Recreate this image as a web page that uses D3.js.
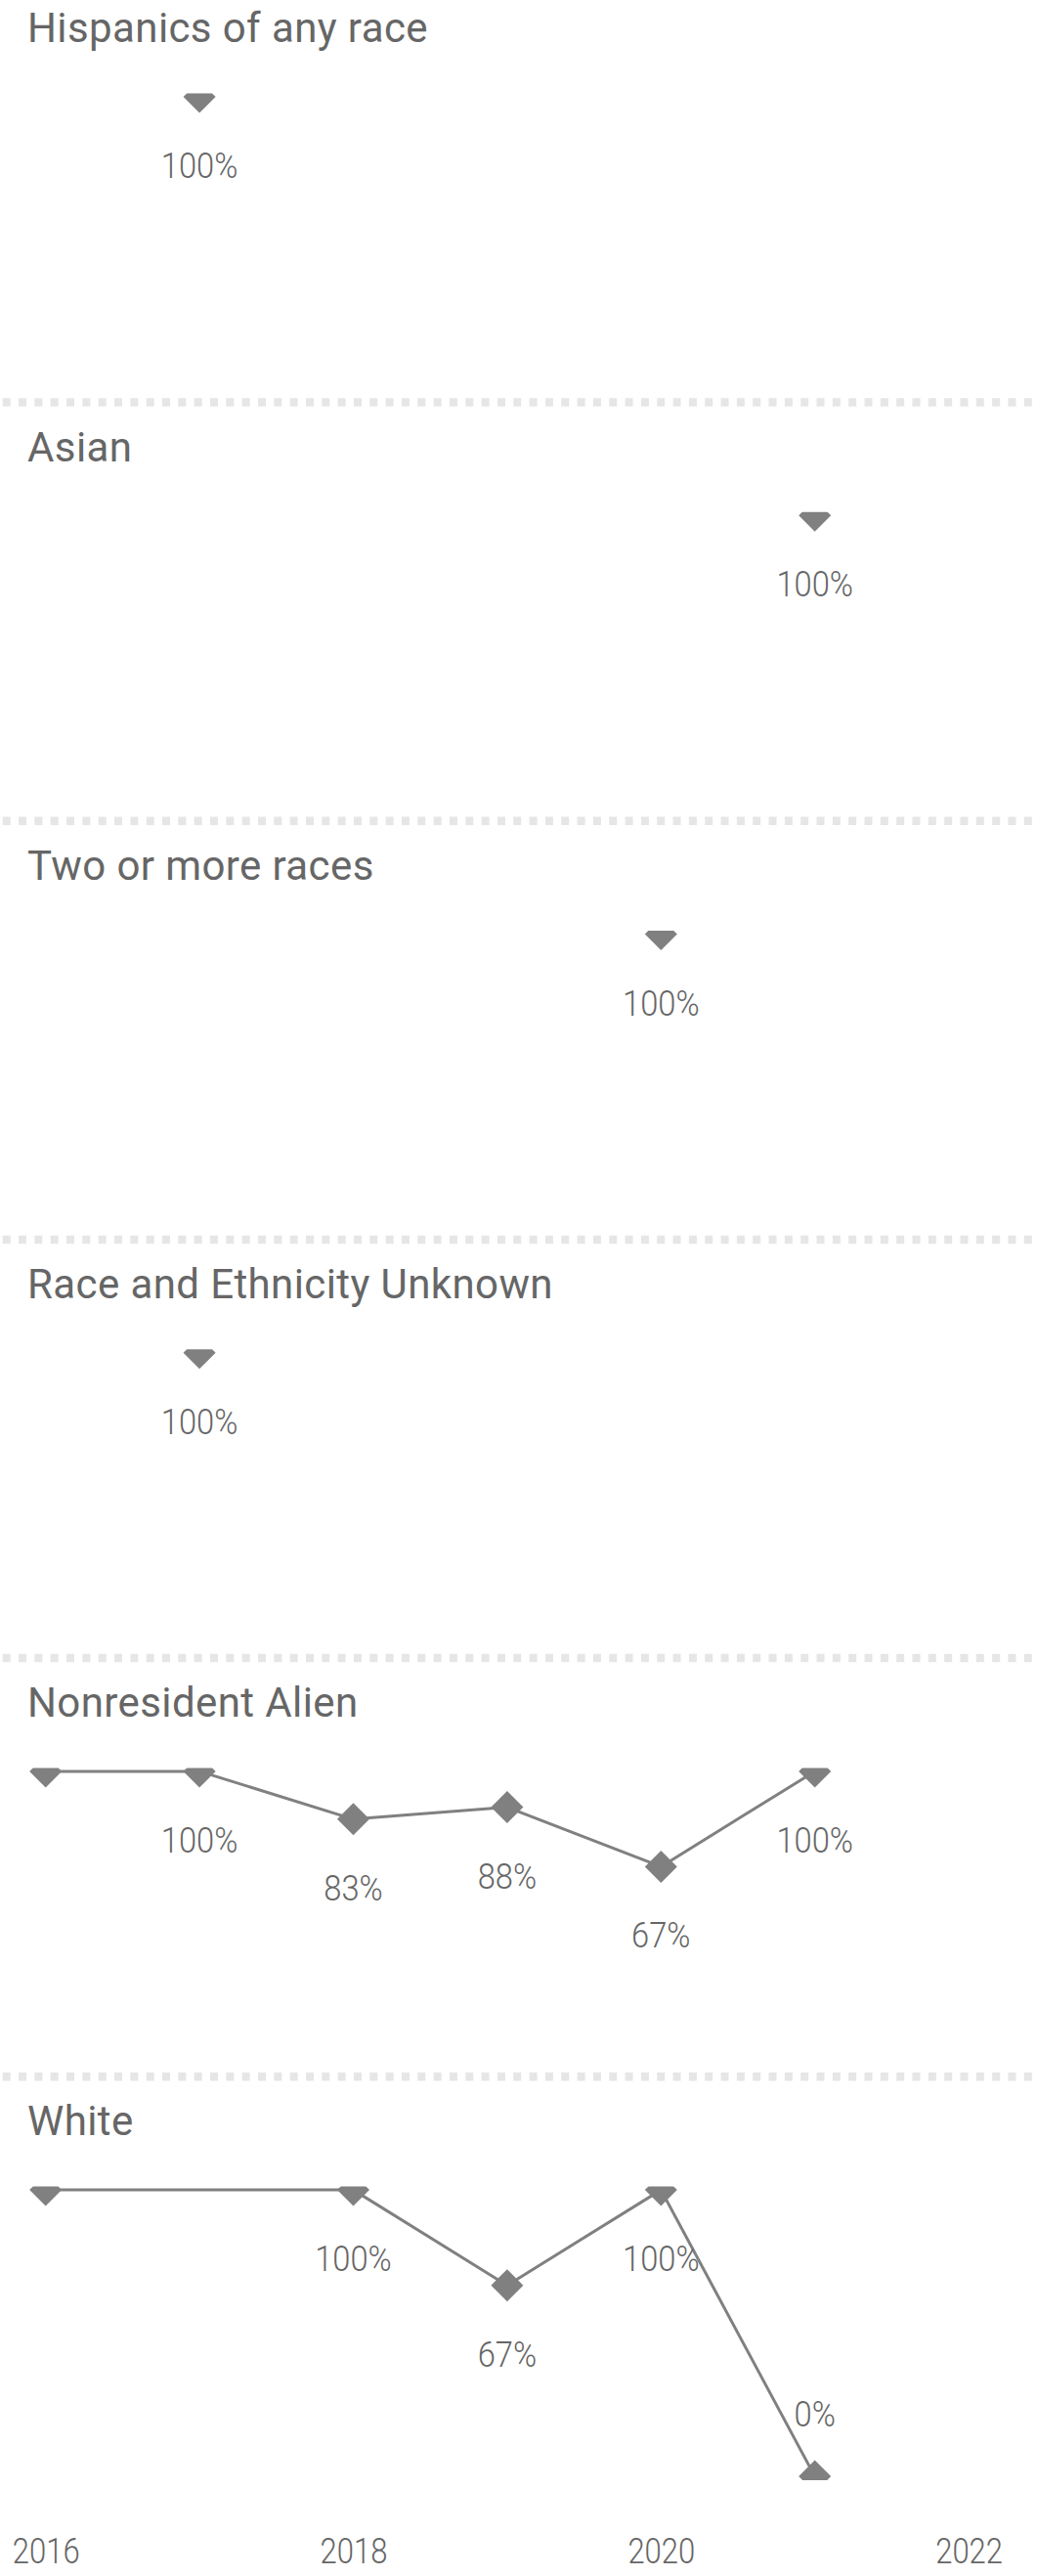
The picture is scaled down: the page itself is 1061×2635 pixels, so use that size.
<!DOCTYPE html>
<html>
<head>
<meta charset="utf-8">
<script src="https://cdn.jsdelivr.net/npm/d3@7"></script>
<style>
  html, body { margin: 0; padding: 0; background: #fff; }
  svg { display: block; }
  .title { font-family: Roboto, "Noto Sans", sans-serif; font-size: 42px; letter-spacing: 0.4px; fill: #666; }
  .val { font-family: Roboto, sans-serif; font-weight: 300; font-size: 36.5px; fill: #666; }
  .x-axis text { font-family: Roboto, sans-serif; font-weight: 300; font-size: 36.5px; fill: #666; }
</style>
</head>
<body>
<svg id="chart"></svg>
<script>
// ---- data ----
const years = [2016, 2017, 2018, 2019, 2020, 2021];
const groups = ['Hispanics of any race', 'Asian', 'Two or more races',
  'Race and Ethnicity Unknown', 'Nonresident Alien', 'White'];
// null = no value for that year
const hispanic    = [null, 1, null, null, null, null];
const asian       = [null, null, null, null, null, 1];
const twoOrMore   = [null, null, null, null, 1, null];
const unknownRace = [null, 1, null, null, null, null];
const nonresident = [1, 1, 0.833, 0.875, 0.667, 1];
const white       = [1, null, 1, 0.667, 1, 0];
const seriesByGroup = [hispanic, asian, twoOrMore, unknownRace, nonresident, white];
const axisTicks = [2016, 2018, 2020, 2022];

// ---- layout ----
const W = 1061, H = 2635;
const FIRST_SEP = -16.7;     // virtual separator above the first panel
const PANEL_STEP = 428.2;
const Y_TOP = 115.8, Y_BOT = 408.8;       // 100% and 0% offsets from separator
const CLIP_TOP = 112.3, CLIP_BOT = 412.6;
const TITLE_X = 28, TITLE_BASE = 60;
const LBL_BELOW = 83, LBL_ABOVE = -51;
const PLOT_LEFT = 30;
const LBL_SX = 0.895, AXIS_SX = 0.85;
const GREY = '#808080';

const svg = d3.select('#chart').attr('width', W).attr('height', H);
const x = d3.scaleLinear().domain([2016, 2022]).range([46.7, 991.1]);
const fmt = d3.format('.0%');
const diamond = d3.symbol(d3.symbolSquare, 545);

// dotted separators between panels
for (let i = 1; i < groups.length; i++) {
  const sy = FIRST_SEP + i * PANEL_STEP;
  svg.append('line')
    .attr('x1', 2.7).attr('x2', W).attr('y1', sy).attr('y2', sy)
    .attr('stroke', '#e6e6e6').attr('stroke-width', 8.5)
    .attr('stroke-dasharray', '8 8.33');
}

groups.forEach((name, i) => {
  const sep = FIRST_SEP + i * PANEL_STEP;
  const y = d3.scaleLinear().domain([0, 1]).range([sep + Y_BOT, sep + Y_TOP]);
  const pts = years.map((yr, j) => ({ yr, v: seriesByGroup[i][j] })).filter((d) => d.v !== null);

  svg.append('text').attr('class', 'title')
    .attr('x', TITLE_X).attr('y', sep + TITLE_BASE).text(name);

  svg.append('clipPath').attr('id', 'clip' + i)
    .append('rect').attr('x', 0).attr('y', sep + CLIP_TOP)
    .attr('width', W).attr('height', CLIP_BOT - CLIP_TOP);

  const g = svg.append('g').attr('clip-path', `url(#clip${i})`);

  const line = d3.line().x((d) => x(d.yr)).y((d) => y(d.v));
  g.append('path').datum(pts)
    .attr('fill', 'none').attr('stroke', GREY).attr('stroke-width', 3)
    .attr('stroke-linejoin', 'round')
    .attr('d', line);

  g.selectAll('path.mk').data(pts).join('path')
    .attr('class', 'mk')
    .attr('d', diamond)
    .attr('fill', GREY)
    .attr('transform', (d) => `translate(${x(d.yr)},${y(d.v)}) rotate(45)`);

  // data labels: below the marker, above when it would fall out of the plot;
  // hidden when the label would run past the left edge of the plot
  pts.forEach((d) => {
    const px = x(d.yr);
    const txt = fmt(d.v);
    const halfW = txt.length * 10;
    if (px - halfW < PLOT_LEFT) return;
    const py = y(d.v);
    const ly = py + LBL_BELOW > sep + CLIP_BOT ? py + LBL_ABOVE : py + LBL_BELOW;
    svg.append('text').attr('class', 'val')
      .attr('text-anchor', 'middle')
      .attr('transform', `translate(${px},${ly}) scale(${LBL_SX},1)`)
      .text(txt);
  });
});

// shared year axis
const axis = svg.append('g').attr('class', 'x-axis')
  .attr('transform', 'translate(0,2622)')
  .call(d3.axisBottom(x).tickValues(axisTicks).tickFormat(d3.format('d')).tickSize(0));
axis.select('.domain').remove();
axis.selectAll('text')
  .attr('y', 0).attr('dy', 0)
  .attr('transform', `scale(${AXIS_SX},1)`);
</script>
</body>
</html>
